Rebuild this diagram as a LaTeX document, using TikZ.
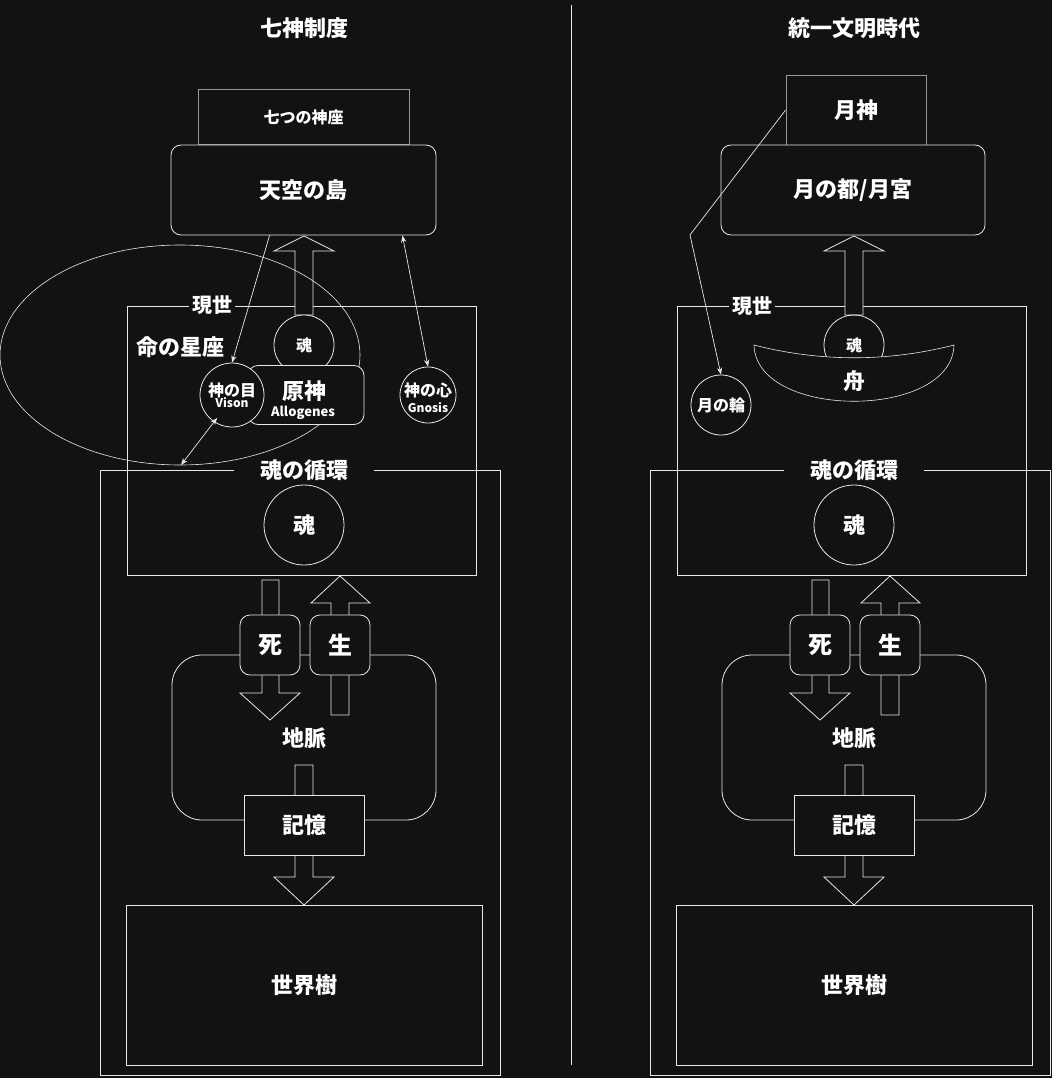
\documentclass[tikz,border=0pt]{standalone}
\usepackage{fontspec}
\setmainfont{Noto Sans CJK JP}
\usepackage{tikz}
\usetikzlibrary{positioning}
\definecolor{bg}{HTML}{121212}
\definecolor{edge}{HTML}{E8E8E8}
\tikzset{
  box/.style={draw=edge, line width=0.8pt, minimum width=#1},
  rbox/.style={box=#1, rounded corners=10pt},
  orb/.style={draw=edge, line width=0.8pt, circle, inner sep=0pt, minimum size=#1},
  lbl/.style={text=white, font=\bfseries\fontsize{#1}{#1}\selectfont},
  tag/.style={lbl=#1, fill=bg, inner sep=3pt},
  link/.style={draw=edge, line width=0.7pt, -{Stealth[length=7pt]}},
  blk/.style={draw=edge, line width=0.8pt, fill=bg}
}
\usetikzlibrary{arrows.meta}
\begin{document}
\begin{tikzpicture}[x=1pt, y=-1pt]
\fill[bg] (0,0) rectangle (1052,1078);
\useasboundingbox (0,0) rectangle (1052,1078);
\draw[edge, line width=0.6pt] (571,5) -- (571,1065);

% the lower part is the same on both sides
\foreach \s/\n in {0/l, 550/r}{
  \begin{scope}[xshift=\s pt]
    \draw[edge, line width=0.8pt] (100,470) rectangle (500,1075);
    \draw[edge, line width=0.8pt] (127,306) rectangle (476,575);
    \draw[edge, line width=0.8pt, rounded corners=30pt] (172,655) rectangle (436,820);
    \node[orb=80pt, lbl=22] (soul\n) at (304,525) {魂};
    \node[tag=22, inner xsep=26pt] (cycle\n) at (304,470) {魂の循環};
    % down and up
    \draw[blk] (262,580) -- (279,580) -- (279,693) -- (300,693) -- (270,720)
      -- (240,693) -- (262,693) -- cycle;
    \draw[blk] (331,715) -- (349,715) -- (349,603) -- (370,603) -- (340,576)
      -- (311,603) -- (331,603) -- cycle;
    \draw[blk] (295,765) -- (313,765) -- (313,877) -- (334,877) -- (304,905)
      -- (274,877) -- (295,877) -- cycle;
    \node[rbox=60pt, minimum height=60pt, fill=bg, lbl=24] (death\n) at (270,645) {死};
    \node[rbox=60pt, minimum height=60pt, fill=bg, lbl=24] (life\n) at (340,645) {生};
    \node[lbl=22] (vein\n) at (304,738) {地脈};
    \node[box=120pt, minimum height=60pt, fill=bg, lbl=22] (memory\n) at (304,825) {記憶};
    \node[box=356pt, minimum height=160pt, lbl=22] (tree\n) at (304,985) {世界樹};
  \end{scope}
}

% left side
\node[lbl=22] (titlel) at (304,28) {七神制度};
\node[box=211pt, minimum height=55pt, draw=gray!80, lbl=16] (seats) at (303.5,117) {七つの神座};
\node[rbox=265pt, minimum height=90pt, fill=bg, lbl=22] (isle) at (303.5,190) {天空の島};
\draw[blk] (295,315) -- (313,315) -- (313,251) -- (334,251) -- (304,236)
  -- (274,251) -- (295,251) -- cycle;
\draw[edge, line width=0.6pt] (180,355) ellipse (180pt and 110pt);
\node[tag=20] (worldl) at (212,305) {現世};
\node[lbl=22] (stars) at (180,347) {命の星座};
\node[orb=60pt, fill=bg, lbl=16] (soulup) at (304,345) {魂};
\node[rbox=116pt, minimum height=59pt, fill=bg, lbl=22] (genshin) at (306,395) {};
\node[lbl=22] (genshint) at (304,391) {原神};
\node[lbl=13] (allog) at (303,413) {Allogenes};
\node[orb=64pt, fill=bg, align=center, lbl=16] (vision) at (232,395)
  {神の目\\[-5pt]{\fontsize{12}{12}\selectfont Vison}};
\node[lbl=16] (gnosist) at (428,390) {神の心};
\node[lbl=12] (gnosiss) at (428,408) {Gnosis};
\node[orb=56pt] (gnosis) at (428,395) {};
\coordinate (rim) at (181,465);
\draw[link] (isle.south west) ++(99,0) -- (vision.north);
\draw[link, {Stealth[length=7pt]}-{Stealth[length=7pt]}] (isle.south east) ++(-34,0) -- (gnosis.north);
\draw[link, {Stealth[length=7pt]}-{Stealth[length=7pt]}] (vision.south west) ++(8,0) -- (rim);

% right side
\node[lbl=22] (titler) at (854,28) {統一文明時代};
\node[box=140pt, minimum height=70pt, draw=gray!80, lbl=22] (moongod) at (856,110) {月神};
\node[rbox=264pt, minimum height=90pt, fill=bg, lbl=22] (moontown) at (853,190) {月の都/月宮};
\draw[blk] (845,315) -- (863,315) -- (863,251) -- (884,251) -- (854,236)
  -- (824,251) -- (845,251) -- cycle;
\node[tag=20] (worldr) at (752,306) {現世};
\node[orb=60pt, lbl=16] (soulboat) at (854,345) {魂};
\draw[edge, line width=0.6pt, fill=bg] (754,345) .. controls (820,362) and (888,362) .. (954,345)
  .. controls (952,420) and (756,420) .. cycle;
\node[lbl=22] (boat) at (854,381) {舟};
\node[orb=60pt, lbl=16] (moonring) at (721,405) {月の輪};
\coordinate (bend) at (690,235);
\draw[link] (moongod.west) -- (bend) -- (moonring.north);
\end{tikzpicture}
\end{document}
